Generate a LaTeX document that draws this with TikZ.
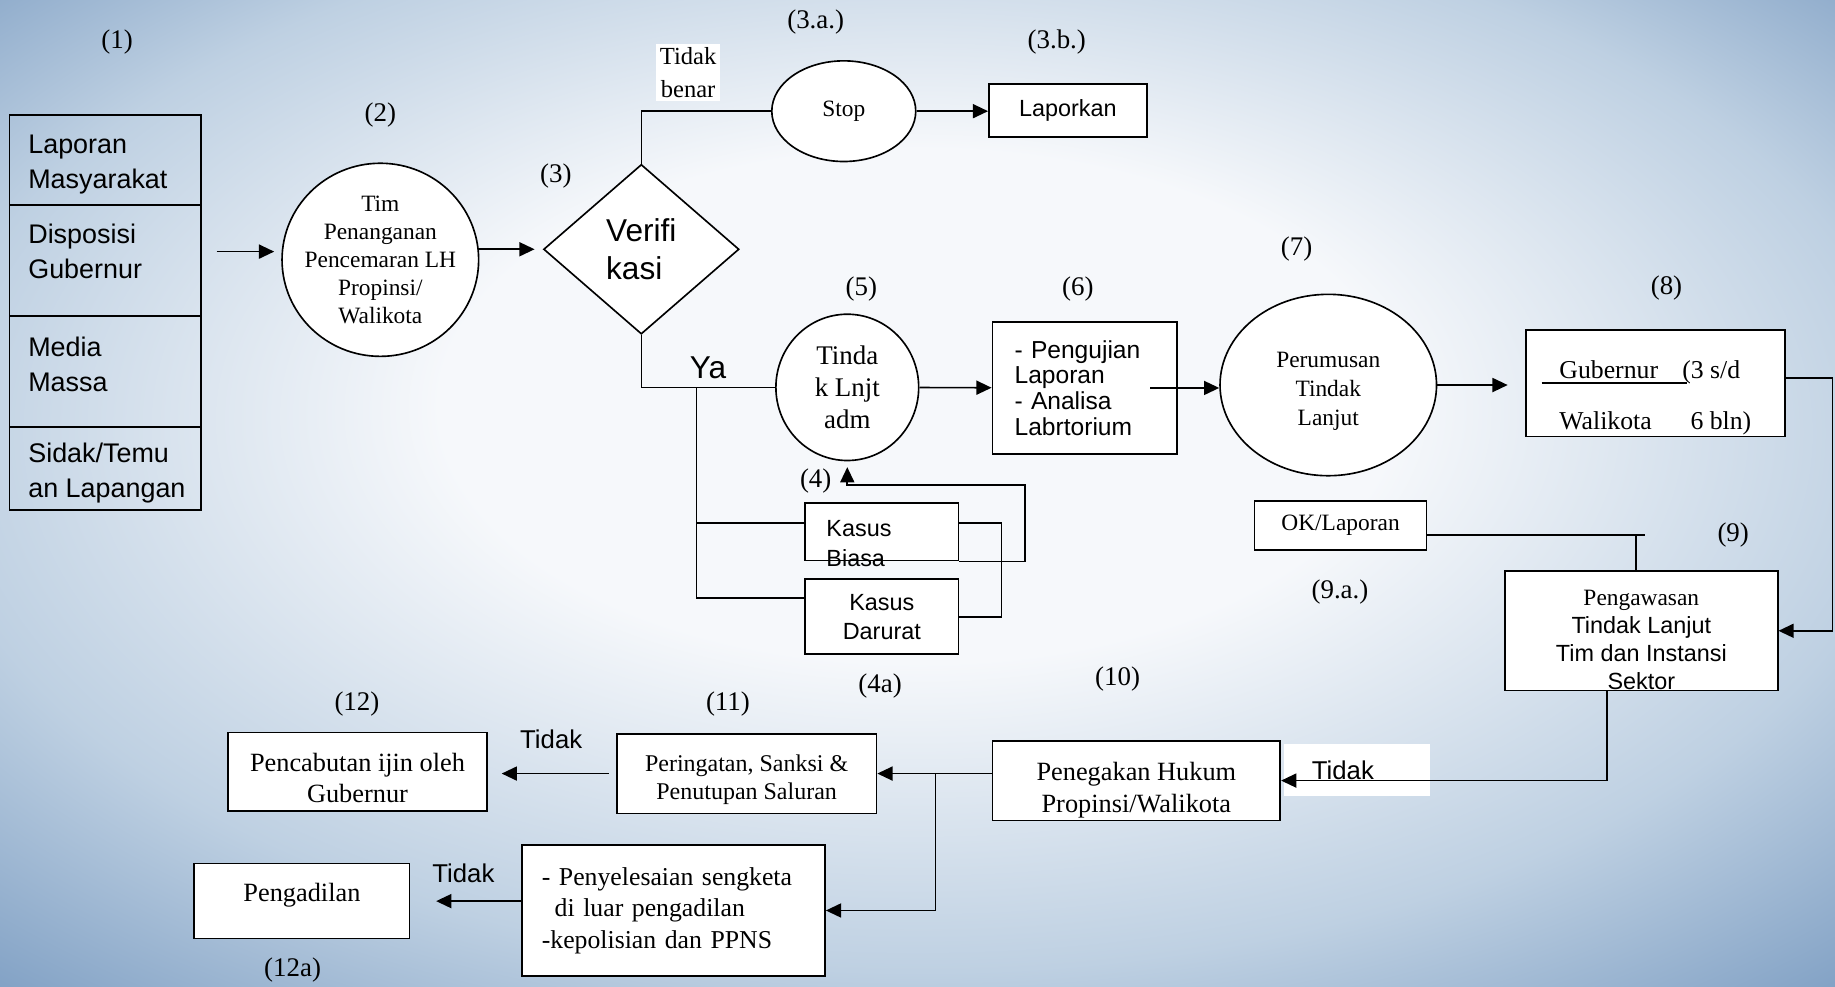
\documentclass[tikz,border=0pt]{standalone}
\usepackage{fontspec}
\setmainfont{Liberation Serif}
\setsansfont{Liberation Sans}
\usetikzlibrary{positioning,shapes.geometric,arrows.meta,calc}

\definecolor{bgmid}{RGB}{246,248,251}
\definecolor{bgedge}{RGB}{190,208,226}
\definecolor{bgdark}{RGB}{128,160,196}
\pgfdeclareradialshading{bgglow}{\pgfpoint{0bp}{6bp}}{color(0bp)=(bgmid); color(13bp)=(bgmid); color(27bp)=(bgedge); color(37bp)=(bgdark); color(50bp)=(bgdark)}

\begin{document}
\begin{tikzpicture}[
  x=1pt, y=-1pt,
  lw/.style={line width=1.4pt},
  box/.style={draw, lw, fill=white, inner sep=0pt, align=center, font=\fontsize{21}{25}\selectfont},
  cell/.style={draw, lw, outer sep=0pt, minimum width=164},
  celltext/.style={anchor=west, inner sep=0pt, align=left, font=\sffamily\fontsize{23}{30}\selectfont},
  oval/.style={ellipse, draw, lw, fill=white, inner sep=0pt, align=center, font=\fontsize{20}{24}\selectfont},
  num/.style={font=\fontsize{23}{27}\selectfont},
  sans/.style={font=\sffamily\fontsize{21}{25}\selectfont},
  arr/.style={lw, -{Triangle[length=13pt,width=12pt]}}
]
% background
\shade[shading=bgglow] (0,0) rectangle (1568,843);

% (1) sources
\node[cell, minimum height=77, anchor=north west] (c1) at (8,98) {};
\node[cell, minimum height=95, below=0pt of c1] (c2) {};
\node[cell, minimum height=95, below=0pt of c2] (c3) {};
\node[cell, minimum height=71, below=0pt of c3] (c4) {};
\node[celltext] (c1-t) at ([xshift=16pt, yshift=-4pt]c1.west) {Laporan\\Masyarakat};
\node[celltext] (c2-t) at ([xshift=16pt, yshift=8pt]c2.west) {Disposisi\\Gubernur};
\node[celltext] (c3-t) at ([xshift=16pt, yshift=6pt]c3.west) {Media\\Massa};
\node[celltext] (c4-t) at ([xshift=16pt, yshift=-3.5pt]c4.west) {Sidak/Temu\\an Lapangan};
\coordinate (in) at (185,215);

% main row
\node[oval, inner xsep=-7pt, minimum width=168, minimum height=165] (tim) at (325,222) {Tim\\Penanganan\\Pencemaran LH\\Propinsi/\\Walikota};
\node[diamond, draw, lw, fill=white, inner sep=0pt, minimum width=167, minimum height=145, align=left, font=\sffamily\fontsize{27}{33}\selectfont] (ver) at (548,213) {Verifi\\kasi};
\node[oval, minimum width=123, minimum height=86] (stop) at (721,95) {Stop};
\node[box, font=\sffamily\fontsize{20}{24}\selectfont, minimum width=135, minimum height=45] (lap) at (912.5,94.5) {Laporkan};
\node[oval, font=\fontsize{23}{27.5}\selectfont, minimum width=122, minimum height=125] (tl) at (724,331) {Tinda\\k Lnjt\\adm};
\node[box, font=\sffamily\fontsize{21}{22}\selectfont, text width=120, align=left, minimum width=158, minimum height=113] (uji) at (927,331.5) {- Pengujian\\Laporan\\- Analisa\\Labrtorium};
\node[oval, font=\fontsize{20}{25}\selectfont, minimum width=185, minimum height=155] (rum) at (1135,329) {\rule{0pt}{24pt}Perumusan\\Tindak\\Lanjut};
\node[box, font=\fontsize{22}{24}\selectfont, align=left, minimum width=221, minimum height=91] (gub) at (1414.5,327.5) {\rule{0pt}{40pt}\makebox[105pt][l]{Gubernur}(3 s/d\\[19pt]\makebox[112pt][l]{Walikota}6 bln)};

% (4) cases
\node[box, minimum width=131, minimum height=49] (biasa) at (753.5,454.5) {};
\node[sans, font=\sffamily\fontsize{20}{25}\selectfont, align=left, inner sep=0pt] (biasa-t) at ([xshift=-19.5pt, yshift=-10pt]biasa.center) {Kasus\\Biasa};
\node[box, font=\sffamily\fontsize{20}{25}\selectfont, minimum width=131, minimum height=64] (darurat) at (753.5,527) {Kasus\\Darurat};

% (9) monitoring
\node[box, font=\fontsize{20}{24}\selectfont, minimum width=147, minimum height=42] (ok) at (1145.5,449) {OK/Laporan};
\node[box, minimum width=233, minimum height=102] (awas) at (1402.5,539) {};
\node[align=center, inner sep=0pt, font=\sffamily\fontsize{20}{24}\selectfont] (awas-t) at ([yshift=-8pt]awas.center) {{\rmfamily Pengawasan}\\Tindak Lanjut\\Tim dan Instansi\\Sektor};

% bottom rows
\node[box, font=\fontsize{22.5}{28}\selectfont, minimum width=246, minimum height=68] (hukum) at (971,667) {\rule{0pt}{32pt}Penegakan Hukum\\Propinsi/Walikota};
\node[box, font=\fontsize{20.5}{24}\selectfont, minimum width=222, minimum height=68] (sanksi) at (638,661) {\rule{0pt}{24pt}Peringatan, Sanksi \&\\Penutupan Saluran};
\node[box, font=\fontsize{22.5}{27}\selectfont, minimum width=221, minimum height=67] (cabut) at (305.5,659.5) {\rule{0pt}{26pt}Pencabutan ijin oleh\\Gubernur};
\node[box, font=\fontsize{22}{27}\selectfont, text width=225, align=left, minimum width=259, minimum height=112] (selesai) at (575.5,778) {- Penyelesaian sengketa\\\hspace*{11pt}di luar pengadilan\\-kepolisian dan PPNS};
\node[box, font=\fontsize{22.5}{27}\selectfont, text height=12pt, text depth=12pt, minimum width=184, minimum height=64] (adil) at (258,770) {Pengadilan};

% numbers
\node[num] (n1) at (100,36) {(1)};
\node[num] (n2) at (325,98) {(2)};
\node[num] (n3) at (475,150) {(3)};
\node[num] (n3a) at (697,19) {(3.a.)};
\node[num] (n3b) at (903,36) {(3.b.)};
\node[num] (n4) at (697,411) {(4)};
\node[num] (n4a) at (752,586) {(4a)};
\node[num] (n5) at (736,247) {(5)};
\node[num] (n6) at (921,247) {(6)};
\node[num] (n7) at (1108,213) {(7)};
\node[num] (n8) at (1424,246) {(8)};
\node[num] (n9) at (1481,457) {(9)};
\node[num] (n9a) at (1145,506) {(9.a.)};
\node[num] (n10) at (955,580) {(10)};
\node[num] (n11) at (622,602) {(11)};
\node[num] (n12) at (305,602) {(12)};
\node[num] (n12a) at (250,829) {(12a)};

% branch labels
\node[fill=white, align=center, font=\fontsize{21}{28}\selectfont] (tb) at (588,62) {Tidak\\benar};
\node[sans, font=\sffamily\fontsize{27}{30}\selectfont] (ya) at (605,314) {Ya};
\node[sans, font=\sffamily\fontsize{22}{25}\selectfont] (t11) at (471,632) {Tidak};
\node[sans, font=\sffamily\fontsize{22}{25}\selectfont] (t12) at (396,746) {Tidak};
\node[fill=white, inner xsep=12pt, text width=101pt, align=left, minimum height=44, font=\sffamily\fontsize{22}{25}\selectfont] (t10) at (1159.5,658) {\hspace*{12pt}Tidak};

% connectors
\draw[arr, shorten >=6pt] (in) -- (in -| tim.west);
\draw[arr, shorten >=7pt] (tim.east |- ver.west) -- (ver.west);
\draw[lw] (ver.north) |- (stop.west);
\draw[arr] (stop.east) -- (stop.east -| lap.west);
\draw[lw] (ver.south) |- (tl.west);
\coordinate (yj) at ($(ver.south |- tl.west)+(47,0)$);
\draw[lw] (yj) |- ([yshift=7.5pt]biasa.west);
\draw[lw] (yj) |- ([yshift=16pt]darurat.west);
\draw[lw] ([yshift=7.5pt]biasa.east) -- ++(36,0) |- (darurat.east);
\draw[arr, shorten >=5pt] (biasa.south east) -- ++(56,0) |- ([yshift=-20pt]tl.south) -- (tl.south);
\draw[arr] (tl) -- (uji);
\draw[arr] ([xshift=-24pt]uji.east) -- (uji.east -| rum.west);
\draw[arr, shorten >=15pt] (rum.east) -- (rum.east -| gub.west);
\draw[lw] ([xshift=14pt]gub.west) -- ++(124,0);
\draw[arr] ([yshift=4.5pt]gub.east) -- ++(40,0) |- (awas.east);
\draw[lw] ([yshift=-8pt]ok.east) -- ++(186,0) ([xshift=-4.5pt]awas.north) |- ([yshift=-8pt]ok.east);
\draw[arr] ([xshift=-29.5pt]awas.south) |- (hukum.east);
\draw[arr] (hukum.west |- sanksi.east) -- (sanksi.east);
\draw[arr] ($(hukum.west |- sanksi.east)+(-48,0)$) |- (selesai.east);
\draw[arr, shorten <=6pt, shorten >=12pt] (sanksi.west) -- (sanksi.west -| cabut.east);
\draw[arr, shorten >=22pt] ([yshift=8pt]selesai.west) -- (adil.east);
\end{tikzpicture}
\end{document}
